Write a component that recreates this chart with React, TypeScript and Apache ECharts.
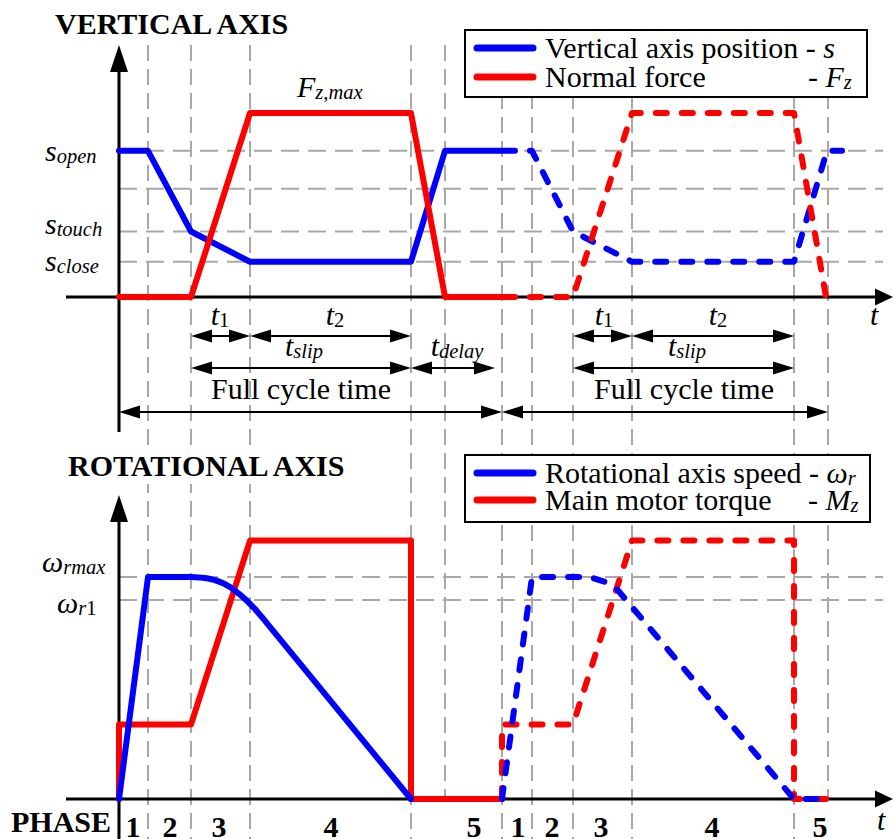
import React, { useEffect, useRef } from "react";
import * as echarts from "echarts";

// ---------------- data ----------------
// time axis in arbitrary time units; levels in % of the axis height
const PHASE_BOUNDS = [29, 72, 131, 292, 326, 383, 413, 454, 513, 675, 709];
const PHASE_SHORT = [326, 709];
const PHASE_NUMBERS = ["1", "2", "3", "4", "5", "1", "2", "3", "4", "5"];
const PHASE_NUMBER_T = [14, 51, 100, 212, 355, 399, 433, 482, 593, 701];

// vertical axis
const S_OPEN = 58;
const S_MID = 43;
const S_TOUCH = 26;
const S_CLOSE = 14;
const FZ_MAX = 73;
const TOP_LEVELS = [S_OPEN, S_MID, S_TOUCH, S_CLOSE];

const POS1_T = [0, 29, 72, 131, 292, 326, 396];
const POS1_V = [S_OPEN, S_OPEN, S_TOUCH, S_CLOSE, S_CLOSE, S_OPEN, S_OPEN];
const POS2_T = [396, 413, 454, 513, 675, 708, 723];
const POS2_V = [S_OPEN, S_OPEN, S_TOUCH, S_CLOSE, S_CLOSE, S_OPEN, S_OPEN];
const FZ1_T = [0, 72, 131, 292, 326, 396];
const FZ1_V = [0, 0, FZ_MAX, FZ_MAX, 0, 0];
const FZ2_T = [396, 454, 513, 675, 707, 719];
const FZ2_V = [0, 0, FZ_MAX, FZ_MAX, 0, 0];

// rotational axis
const W_RMAX = 73;
const W_R1 = 65.5;
const MZ_LOW = 24.5;
const MZ_MAX = 85;
const BOTTOM_LEVELS = [W_RMAX, W_R1];

const SPD1_T = [0, 29, 72, 80, 88, 96, 104, 112, 120, 128, 136, 144, 292];
const SPD1_V = [0, 73, 73, 72.9, 72.6, 72.0, 71.0, 69.5, 67.5, 65.2, 62.5, 59.4, 0];
const SPD2_T = [383, 413, 471, 486, 497, 675, 709];
const SPD2_V = [0, 73, 73, 71.4, 69.4, 0, 0];
const MZ1_T = [0, 0, 72, 131, 292, 292, 383];
const MZ1_V = [0, MZ_LOW, MZ_LOW, MZ_MAX, MZ_MAX, 0, 0];
const MZ2_T = [383, 383, 454, 513, 675, 675, 709];
const MZ2_V = [0, MZ_LOW, MZ_LOW, MZ_MAX, MZ_MAX, 0, 0];

// time-span annotations
const SPAN_FROM = [72, 131, 72, 292, 0, 454, 513, 454, 383];
const SPAN_TO = [131, 292, 292, 376, 383, 513, 675, 675, 709];
const SPAN_ROW = [0, 0, 1, 1, 2, 0, 0, 1, 2];
const SPAN_MAIN = ["t", "t", "t", "t", "Full cycle time", "t", "t", "t", "Full cycle time"];
const SPAN_SUB = ["1", "2", "slip", "delay", "", "1", "2", "slip", ""];
const SPAN_LABEL_T = [101, 216, 185, 338, 182, 485, 599, 568, 565];

const FONT = "Liberation Serif, Times New Roman, serif";
const FS = 30;
const FS_SUB = 20.5;
const GRAY = "#a8a8a8";
const BLUE = "#0000ff";
const RED = "#ff0000";

export default function App() {
  const ref = useRef<HTMLDivElement>(null);

  useEffect(() => {
    document.body.style.margin = "0";
    const chart = echarts.init(ref.current!, null, { renderer: "svg" });

    const line = (name: string, gi: number, ts: number[], vs: number[], color: string, dashed: boolean, z: number, off = 0) => ({
      type: "line",
      name,
      xAxisIndex: gi,
      yAxisIndex: gi,
      data: ts.map((t, i) => [t, vs[i]]),
      symbol: "none",
      clip: false,
      silent: true,
      z,
      lineStyle: {
        color,
        width: 6,
        type: dashed ? [11, 15] : "solid",
        dashOffset: off,
        cap: "round",
        join: "round",
      },
    });

    chart.setOption({
      animation: false,
      grid: [
        { left: 119, top: 45, width: 774, height: 252 },
        { left: 119, top: 495, width: 774, height: 304 },
      ],
      xAxis: [0, 1].map((gi) => ({ type: "value", gridIndex: gi, min: 0, max: 774, show: false })),
      yAxis: [0, 1].map((gi) => ({ type: "value", gridIndex: gi, min: 0, max: 100, show: false })),
      series: [
        line("Vertical axis position", 0, POS1_T, POS1_V, BLUE, false, 3),
        line("Vertical axis position 2", 0, POS2_T, POS2_V, BLUE, true, 3, 11),
        line("Normal force", 0, FZ1_T, FZ1_V, RED, false, 4),
        line("Normal force 2", 0, FZ2_T, FZ2_V, RED, true, 4, 11),
        line("Main motor torque", 1, MZ1_T, MZ1_V, RED, false, 3),
        line("Main motor torque 2", 1, MZ2_T, MZ2_V, RED, true, 3),
        line("Rotational axis speed", 1, SPD1_T, SPD1_V, BLUE, false, 4),
        line("Rotational axis speed 2", 1, SPD2_T, SPD2_V, BLUE, true, 4),
      ],
    });

    const P = (gi: number, t: number, v: number) => chart.convertToPixel({ gridIndex: gi }, [t, v]) as number[];
    const x0 = P(0, 0, 0)[0];
    const yTop0 = P(0, 0, 0)[1];
    const yTopMax = P(0, 0, 100)[1];
    const yBot0 = P(1, 0, 0)[1];
    const yBotMax = P(1, 0, 100)[1];
    const xEnd = P(0, 774, 0)[0];
    const H = 839;

    const els: any[] = [];
    const seg = (x1: number, y1: number, x2: number, y2: number, style: any, z: number) =>
      els.push({ type: "line", silent: true, z, shape: { x1, y1, x2, y2 }, style });
    const tri = (pts: number[][], z: number) =>
      els.push({ type: "polygon", silent: true, z, shape: { points: pts }, style: { fill: "#000" } });

    const gridV = { stroke: GRAY, lineWidth: 2, lineDash: [16, 8] };
    const gridH = { stroke: GRAY, lineWidth: 2, lineDash: [18, 9] };

    // guide lines
    PHASE_BOUNDS.forEach((t) => {
      const x = P(0, t, 0)[0];
      seg(x, yTopMax, x, PHASE_SHORT.includes(t) ? yBot0 : H, gridV, 1);
    });
    TOP_LEVELS.forEach((v) => {
      const y = P(0, 0, v)[1];
      seg(x0, y, 883, y, gridH, 1);
    });
    BOTTOM_LEVELS.forEach((v) => {
      const y = P(1, 0, v)[1];
      seg(x0, y, 883, y, gridH, 1);
    });

    // axes
    const ax = { stroke: "#000", lineWidth: 3 };
    seg(x0, 432, x0, yTopMax + 25, ax, 2);
    tri([[x0, yTopMax], [x0 - 9, yTopMax + 27], [x0 + 9, yTopMax + 27]], 2);
    seg(66, yTop0, xEnd - 16, yTop0, ax, 2);
    tri([[xEnd, yTop0], [xEnd - 18, yTop0 - 8.5], [xEnd - 18, yTop0 + 8.5]], 2);
    seg(x0, H, x0, yBotMax + 25, ax, 2);
    tri([[x0, yBotMax], [x0 - 9, yBotMax + 27], [x0 + 9, yBotMax + 27]], 2);
    seg(66, yBot0, xEnd - 16, yBot0, ax, 2);
    tri([[xEnd, yBot0], [xEnd - 18, yBot0 - 8.5], [xEnd - 18, yBot0 + 8.5]], 2);

    // rich text helpers
    const tok = (extra: any) => ({ fontSize: FS, fontFamily: FONT, fill: "#000", ...extra });
    const RICH = {
      i: tok({ fontStyle: "italic" }),
      n: tok({}),
      b: tok({ fontWeight: "bold" }),
      si: tok({ fontSize: FS_SUB, fontStyle: "italic", padding: [11, 0, 0, 0] }),
      sn: tok({ fontSize: FS_SUB, padding: [11, 0, 0, 0] }),
    };
    const text = (x: number, baseline: number, str: string, align = "left", z = 10, extra: any = {}) =>
      els.push({
        type: "text",
        silent: true,
        z,
        x,
        y: baseline - 0.3375 * FS,
        style: {
          text: str,
          rich: RICH,
          fill: "#000",
          fontSize: FS,
          fontFamily: FONT,
          align,
          verticalAlign: "middle",
          textAlign: align,
          textVerticalAlign: "middle",
          ...extra,
        },
      });

    // span annotations
    const rowY = [yTop0 + 39, yTop0 + 71, yTop0 + 115];
    const rowBase = [yTop0 + 28, yTop0 + 59, yTop0 + 102];
    const arrowStyle = { stroke: "#000", lineWidth: 2 };
    SPAN_FROM.forEach((from, i) => {
      const xa = P(0, from, 0)[0];
      const xb = P(0, SPAN_TO[i], 0)[0];
      const y = rowY[SPAN_ROW[i]];
      const L = 21;
      const h = 6.5;
      seg(xa + 8, y, xb - 8, y, arrowStyle, 5);
      tri([[xa, y], [xa + L, y - h], [xa + L, y + h]], 5);
      tri([[xb, y], [xb - L, y - h], [xb - L, y + h]], 5);
      const main = SPAN_MAIN[i] === "t" ? `{i|t}` : `{n|${SPAN_MAIN[i]}}`;
      const sub = SPAN_SUB[i] ? (/\d/.test(SPAN_SUB[i]) ? `{sn|${SPAN_SUB[i]}}` : `{si|${SPAN_SUB[i]}}`) : "";
      text(P(0, SPAN_LABEL_T[i], 0)[0], rowBase[SPAN_ROW[i]], main + sub, "center");
    });

    // level labels
    text(45, 161, "{i|s}{si|open}");
    text(45, 234, "{i|s}{si|touch}");
    text(45, 271, "{i|s}{si|close}");
    text(297, 97, "{i|F}{si|z,max}");
    text(42, 572, "{i|ω}{si|rmax}");
    text(57, 613, "{i|ω}{si|r}{sn|1}");
    text(870, 325, "{i|t}");
    text(877, 830, "{i|t}");

    // titles
    text(55, 34, "VERTICAL AXIS", "left", 10, { rich: undefined, fontWeight: "bold" });
    text(66, 476, "ROTATIONAL AXIS", "left", 10, { rich: undefined, fontWeight: "bold", backgroundColor: "#fff", padding: [3, 2] });
    text(11, 832, "PHASE", "left", 10, { rich: undefined, fontWeight: "bold" });
    PHASE_NUMBERS.forEach((n, i) => {
      text(P(1, PHASE_NUMBER_T[i], 0)[0], 837, n, "center", 10, { rich: undefined, fontWeight: "bold" });
    });

    // legends
    const legend = (top: number, y1: number, y2: number, w: number, r1: string, l2: string, r2: string) => {
      els.push({ type: "rect", silent: true, z: 8, shape: { x: 465, y: top, width: w, height: 67 }, style: { fill: "#fff", stroke: "#000", lineWidth: 2 } });
      seg(477, y1, 533, y1, { stroke: BLUE, lineWidth: 7, lineCap: "round" }, 9);
      seg(477, y2, 533, y2, { stroke: RED, lineWidth: 7, lineCap: "round" }, 9);
      text(545, y1 + 10, r1);
      text(545, y2 + 10, `{n|${l2}}`);
      text(808, y2 + 10, r2);
    };
    legend(30, 48, 77, 402, "{n|Vertical axis position - }{i|s}", "Normal force", "{n|- }{i|F}{si|z}");
    legend(455, 473, 500, 405, "{n|Rotational axis speed - }{i|ω}{si|r}", "Main motor torque", "{n|- }{i|M}{si|z}");

    chart.setOption({ graphic: { elements: els } });

    return () => chart.dispose();
  }, []);

  return <div ref={ref} style={{ width: 893, height: 839 }} />;
}
